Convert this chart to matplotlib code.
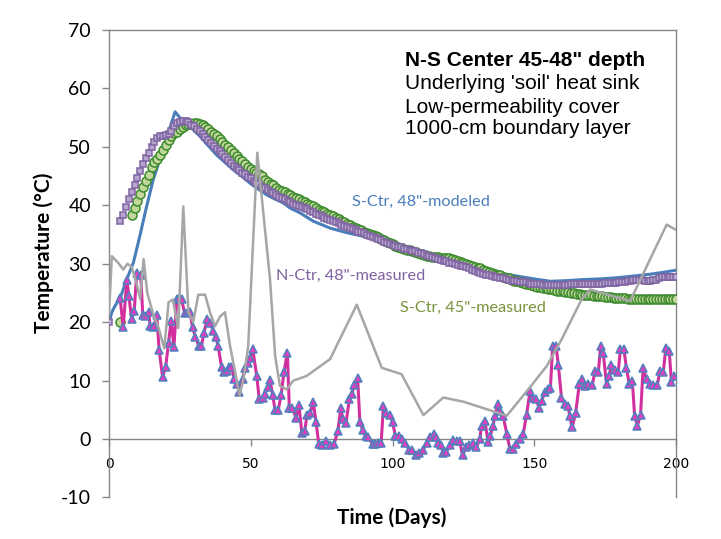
import matplotlib
matplotlib.use("Agg")
import matplotlib.pyplot as plt
import numpy as np

plt.rcParams["axes.unicode_minus"] = False

# --- data ---
# S-Ctr 48" modeled (blue line)
blue_days = [0, 1, 2, 4, 6, 8.6, 11, 13, 15.6, 18.6, 21, 23.3, 25, 27.4, 30, 32.1, 35, 38, 41, 43.8,
             47, 49.7, 52, 55.6, 58, 61.5, 64, 67.4, 72, 78, 84, 89.7, 95, 101.5, 107, 113.2, 119, 125,
             132, 138, 143.8, 150, 155.6, 161, 167.3, 173, 179.1, 185, 190.8, 195, 200]
blue_vals = [20, 21.7, 22.7, 24.2, 27.0, 30.2, 35.0, 39.3, 44.4, 48.9, 52.5, 56.0, 55.0, 54.0, 52.8, 51.8,
             50.2, 48.6, 47.3, 46.1, 44.9, 43.8, 43.0, 41.8, 41.2, 40.4, 39.5, 38.7, 37.3, 36.1, 35.3, 34.7,
             34.0, 33.0, 32.1, 31.3, 30.6, 29.9, 29.0, 28.4, 27.9, 27.4, 27.0, 27.1, 27.3, 27.4, 27.6, 27.9,
             28.2, 28.5, 28.9]

# N-Ctr 48" measured (purple squares), daily from day 4
purple_start = 4
purple_vals = [
    37.4, 38.3, 39.7, 41.0, 42.2, 43.4, 44.6, 45.9, 47.1, 48.1, 49.0, 50.0, 50.9, 51.6, 51.8, 51.9,
    52.0, 52.2, 52.8, 53.6, 54.1, 54.2, 54.4, 54.4, 54.2, 53.8, 53.5, 53.1, 52.7, 52.2, 51.7, 51.2,
    50.7, 50.2, 49.7, 49.3, 48.8, 48.3, 47.8, 47.3, 46.8, 46.4, 46.0, 45.6, 45.3, 44.9, 44.6, 44.2,
    43.9, 43.6, 43.2, 42.9, 42.6, 42.3, 42.1, 41.8, 41.5, 41.3, 41.0, 40.8, 40.6, 40.3, 40.1, 39.9,
    39.7, 39.5, 39.3, 39.0, 38.8, 38.6, 38.4, 38.1, 37.9, 37.7, 37.5, 37.3, 37.1, 36.9, 36.7, 36.5,
    36.3, 36.1, 35.9, 35.7, 35.5, 35.4, 35.2, 35.0, 34.8, 34.6, 34.4, 34.2, 34.0, 33.8, 33.6, 33.4,
    33.2, 33.0, 32.9, 32.8, 32.6, 32.5, 32.4, 32.2, 32.1, 31.9, 31.8, 31.6, 31.4, 31.3, 31.1, 31.0,
    30.8, 30.7, 30.5, 30.4, 30.2, 30.1, 30.0, 29.8, 29.7, 29.6, 29.4, 29.2, 29.0, 28.8, 28.6, 28.4,
    28.2, 28.1, 28.0, 27.9, 27.8, 27.7, 27.6, 27.5, 27.4, 27.2, 27.1, 27.0, 27.0, 26.9, 26.8, 26.8,
    26.7, 26.6, 26.6, 26.5, 26.5, 26.4, 26.4, 26.3, 26.3, 26.3, 26.3, 26.4, 26.4, 26.4, 26.4, 26.5,
    26.5, 26.5, 26.5, 26.5, 26.5, 26.5, 26.6, 26.6, 26.6, 26.6, 26.6, 26.7, 26.7, 26.7, 26.7, 26.7,
    26.8, 26.8, 26.9, 27.0, 27.1, 27.2, 27.3, 27.3, 27.3, 27.1, 27.0, 27.0, 27.2, 27.3, 27.5, 27.8,
    27.8, 27.8, 27.8, 27.8, 27.8]
purple_first = (0, 20)

# S-Ctr 45" measured (green circles), daily from day 8
green_start = 8
green_vals = [
    38.4, 39.6, 40.8, 42.0, 43.2, 44.1, 45.2, 46.6, 47.4, 47.9, 48.6, 49.4, 50.4, 51.2, 51.9, 52.3,
    52.6, 53.0, 53.4, 53.7, 53.9, 54.0, 54.1, 54.1, 54.0, 53.8, 53.4, 53.0, 52.6, 52.2, 51.8, 51.3,
    50.8, 50.3, 49.9, 49.4, 48.9, 48.4, 48.0, 47.5, 47.1, 46.6, 46.3, 45.9, 45.6, 45.3, 45.0, 44.3,
    44.0, 43.7, 43.4, 43.0, 42.7, 42.5, 42.3, 42.0, 41.8, 41.5, 41.3, 41.1, 40.8, 40.6, 40.3, 40.0,
    39.8, 39.5, 39.2, 39.0, 38.8, 38.6, 38.4, 38.1, 37.8, 37.6, 37.3, 37.1, 36.8, 36.6, 36.3, 36.1,
    35.9, 35.7, 35.5, 35.3, 35.1, 34.9, 34.7, 34.5, 34.2, 34.0, 33.8, 33.5, 33.3, 33.0, 32.9, 32.7,
    32.6, 32.4, 32.3, 32.1, 32.0, 31.8, 31.7, 31.5, 31.4, 31.3, 31.2, 31.1, 31.1, 31.0, 31.0, 31.0,
    31.0, 30.8, 30.6, 30.4, 30.3, 30.2, 30.0, 29.8, 29.6, 29.5, 29.3, 29.2, 29.0, 28.8, 28.6, 28.5,
    28.3, 28.1, 28.0, 27.8, 27.6, 27.5, 27.3, 27.1, 27.0, 26.8, 26.7, 26.6, 26.5, 26.3, 26.2, 26.1,
    26.0, 25.9, 25.8, 25.7, 25.6, 25.5, 25.4, 25.4, 25.3, 25.2, 25.1, 25.0, 25.0, 24.9, 24.8, 24.7,
    24.7, 24.6, 24.6, 24.5, 24.5, 24.4, 24.4, 24.3, 24.3, 24.3, 24.2, 24.2, 24.2, 24.1, 24.1, 24.0,
    24.0, 24.0, 24.0, 23.9, 23.9, 23.9, 23.9, 23.9, 23.9, 23.9, 23.9, 23.9, 23.9, 23.9, 23.9, 23.9,
    23.9]
green_first = (4, 20)

# gray line
gray_days = [0, 1, 3.5, 5, 6.5, 8, 9.5, 11, 12.2, 13.5, 15.5, 17.5, 19.5, 21, 22.5, 24.4, 26.2, 28,
             29.7, 31.5, 33.9, 35.6, 37.4, 39.2, 40.9, 42.7, 44.4, 46, 47.4, 49.1, 52.3, 56.8, 58.6,
             60.3, 62.7, 65, 69.7, 78, 87.4, 96.2, 103.2, 110.9, 117.9, 125, 140.3, 147.9, 154.4,
             159.7, 166.7, 169.7, 183.8, 196.7, 200]
gray_vals = [21.5, 31.3, 30, 29, 30, 29.5, 27, 24, 30.8, 25, 21.5, 19, 15.5, 23.4, 23.9, 19, 39.8,
             21.7, 20, 24.7, 24.7, 21.7, 19.3, 21, 21.7, 15.9, 11.7, 7.4, 10.2, 15.9, 49, 27.3, 14.2,
             9.1, 8.5, 10, 10.8, 13.7, 23, 12.2, 11.1, 4.1, 7.1, 6.4, 4.0, 8.5, 12.5, 17.1, 23.9, 25.6,
             23.6, 36.7, 35.8]

# magenta line with triangles
tri_days = [3.9, 5.0, 6.3, 7.0, 8.0, 8.9, 9.8, 11.2, 11.9, 12.7, 14.0, 14.5, 15.4, 16.0, 16.8, 17.7,
            18.9, 20.0, 21.0, 21.9, 22.9, 23.9, 24.8, 25.6, 26.7, 27.7, 28.5, 29.5, 30.5, 31.7, 32.6,
            33.5, 34.7, 35.6, 36.8, 37.7, 38.5, 39.7, 40.7, 41.6, 42.4, 43.2, 44.2, 45.2, 46.0, 47.1,
            48.0, 48.9, 49.7, 50.7, 52.1, 53.0, 54.2, 55.0, 56.0, 56.8, 57.7, 58.6, 59.7, 60.7, 61.7,
            62.9, 63.6, 64.6, 66.0, 67.0, 68.0, 69.0, 69.9, 71.0, 72.0, 73.0, 74.0, 75.0, 76.5, 78.0,
            79.4, 80.7, 81.8, 82.4, 83.6, 84.8, 85.6, 86.5, 87.7, 88.5, 89.5, 90.5, 91.5, 93.0, 93.8,
            95.0, 96.0, 96.8, 97.8, 99.0, 100.0, 101.0, 102.3, 103.5, 104.5, 105.8, 107.0, 108.3,
            109.5, 110.9, 112.0, 113.3, 114.5, 115.2, 116.0, 117.0, 117.9, 119.0, 120.2, 121.4, 122.8,
            123.7, 124.7, 125.9, 127.0, 128.5, 129.6, 130.8, 131.4, 132.6, 133.7, 134.5, 135.5, 136.0,
            137.3, 137.9, 139.0, 140.3, 141.4, 142.6, 143.7, 144.9, 146.1, 147.3, 148.5, 149.4, 150.6,
            151.7, 152.6, 153.7, 154.9, 155.7, 156.5, 157.7, 158.5, 159.6, 160.8, 162.0, 162.5, 163.4,
            164.6, 165.9, 166.7, 167.8, 169.0, 170.5, 171.4, 172.6, 173.4, 174.3, 175.5, 176.4, 177.2,
            178.4, 179.6, 180.4, 181.6, 182.5, 183.5, 184.6, 185.4, 186.4, 187.5, 188.4, 189.6, 190.8,
            192.0, 193.4, 194.3, 195.5, 196.4, 197.6, 198.4, 199.4]
tri_vals = [24.2, 19.1, 27.3, 24.5, 20.5, 22.0, 28.5, 28.0, 21.3, 21.0, 21.8, 19.3, 19.1, 19.3, 21.3,
            15.2, 10.6, 12.4, 16.5, 20.2, 15.7, 23.9, 24.2, 23.9, 21.5, 21.7, 21.7, 19.1, 17.5, 15.9,
            15.9, 18.2, 20.6, 19.9, 18.5, 17.4, 15.9, 12.3, 11.4, 11.6, 12.4, 12.4, 10.2, 9.4, 8.0,
            10.2, 12.1, 13.0, 13.8, 15.4, 10.8, 6.8, 7.1, 7.7, 8.9, 10.1, 7.5, 5.0, 5.0, 7.5, 11.4,
            14.8, 5.4, 5.4, 3.6, 5.9, 1.1, 1.4, 4.2, 4.5, 6.4, 3.0, -0.9, -1.0, -0.4, -1.0, -0.8, 1.3,
            5.4, 3.4, 2.8, 6.9, 7.7, 9.2, 10.4, 2.9, 1.5, 0.6, 0.3, -0.9, -0.8, -0.7, -0.6, 5.7, 4.5,
            4.2, 2.9, 0.6, 0.5, 0.0, -0.6, -1.8, -1.8, -2.8, -2.3, -1.8, -0.6, 0.3, 0.9, 0.3, -0.6,
            -1.1, -2.3, -2.2, -1.1, -0.1, -0.3, -0.3, -2.8, -1.4, -1.1, -0.7, -1.4, 0.0, 2.3, 3.1,
            -0.5, 0.6, 2.3, 3.9, 6.0, 4.8, 4.0, 0.9, -1.7, -1.7, -0.9, 0.0, 0.9, 4.2, 8.2, 7.1, 6.8,
            5.4, 6.5, 8.0, 8.5, 8.8, 15.9, 15.9, 12.6, 7.1, 6.0, 5.6, 3.9, 2.0, 4.5, 9.4, 10.2, 9.0,
            9.4, 9.2, 11.7, 11.4, 15.9, 14.8, 9.4, 10.8, 12.6, 11.9, 11.4, 15.4, 15.4, 12.2, 9.4, 9.9,
            4.0, 2.3, 4.2, 12.2, 10.2, 9.4, 9.2, 9.2, 11.7, 11.4, 15.6, 15.1, 9.7, 10.8]

purple_days = np.arange(len(purple_vals)) + purple_start
green_days = np.arange(len(green_vals)) + green_start

fig = plt.figure(figsize=(7.21, 5.39), dpi=100)
ax = fig.add_axes([0.1512, 0.0770, 0.7864, 0.8673])

ax.plot(blue_days, blue_vals, color="#4a7ebb", lw=2.2, zorder=2)
ax.plot(green_days, green_vals, ls="none", marker="o", ms=6.5, mfc="#c3d69b", mec="#3d8b2f",
        mew=1.1, zorder=3)
ax.plot(*green_first, ls="none", marker="o", ms=6.5, mfc="#c3d69b", mec="#3d8b2f", mew=1.1, zorder=3)
ax.plot(purple_days, purple_vals, ls="none", marker="s", ms=4.3, mfc="#b7a6cf", mec="#8064a2",
        mew=1.1, zorder=4)
ax.plot(*purple_first, ls="none", marker="s", ms=4.3, mfc="#b7a6cf", mec="#8064a2", mew=1.1, zorder=4)
ax.plot(tri_days, tri_vals, color="#d2309f", lw=2.2, marker="^", ms=5.8, mfc="#e040c0",
        mec="#4f81bd", mew=1.1, zorder=5)
ax.plot(gray_days, gray_vals, color="#a6a6a6", lw=1.8, zorder=6)

ax.set_xlim(0, 200)
ax.set_ylim(-10, 70)
ax.set_xticks([0, 50, 100, 150, 200])
ax.set_yticks(np.arange(-10, 71, 10))

tick_font = "Lato"
for lab in ax.get_xticklabels() + ax.get_yticklabels():
    lab.set_fontfamily(tick_font)
    lab.set_fontsize(14)
ax.tick_params(axis="both", direction="out", length=5, color="#868686", width=1, pad=8)

ax.spines["bottom"].set_position(("data", 0))
for s in ["left", "bottom", "top", "right"]:
    ax.spines[s].set_color("#868686")
    ax.spines[s].set_linewidth(1)

ax.set_ylabel("Temperature (°C)", fontsize=15, fontweight="bold", family=tick_font)
ax.yaxis.set_label_coords(-0.097, 0.523)
ax.set_xlabel("Time (Days)", fontsize=15, fontweight="bold", family=tick_font)
ax.xaxis.set_label_coords(0.499, -0.022)

note_font = "Liberation Sans"
ax.text(104.4, 64.8, "N-S Center 45-48\" depth", fontsize=15, fontweight="bold", family=note_font,
        va="center", ha="left")
ax.text(104.4, 60.8, "Underlying 'soil' heat sink", fontsize=15, family=note_font, va="center", ha="left")
ax.text(104.4, 56.8, "Low-permeability cover", fontsize=15, family=note_font, va="center", ha="left")
ax.text(104.4, 53.1, "1000-cm boundary layer", fontsize=15, family=note_font, va="center", ha="left")

ax.text(85.7, 40.6, "S-Ctr, 48\"-modeled", color="#4a7ebb", fontsize=11.7, family=tick_font,
        va="center", ha="left")
ax.text(58.9, 28.0, "N-Ctr, 48\"-measured", color="#7f62a1", fontsize=11.7, family=tick_font,
        va="center", ha="left")
ax.text(102.6, 22.4, "S-Ctr, 45\"-measured", color="#77933c", fontsize=11.7, family=tick_font,
        va="center", ha="left")

fig.savefig("out.png", dpi=100)
